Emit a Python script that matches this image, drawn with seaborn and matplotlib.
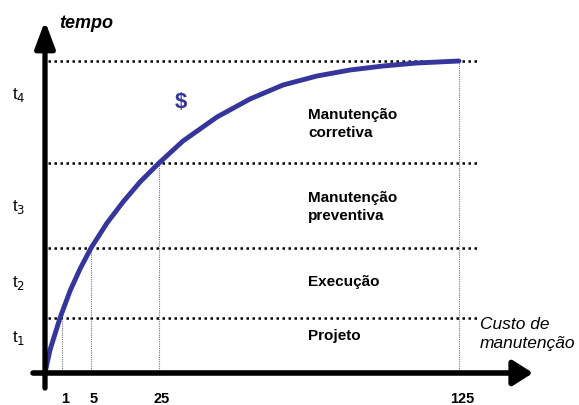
import numpy as np
import seaborn as sns
import matplotlib.pyplot as plt

sns.set_style('white')
plt.rcParams['font.family'] = ['Liberation Sans', 'DejaVu Sans']
plt.rcParams['text.color'] = 'black'

# schematic units: origin at axis crossing
curve_x = [0, 5, 15, 25, 35, 46, 62, 78, 95, 114, 138, 172, 205, 238, 272, 305, 338, 372, 414]
curve_y = [0, 23, 55, 82, 104, 125, 150, 171, 191, 210, 232, 256, 274, 288, 297, 303, 307, 310, 312]

cost_pos = [17, 46, 114, 414]
cost_labels = ['1', '5', '25', '125']

time_levels = [55, 125, 210, 312]
time_labels = ['t$_1$', 't$_2$', 't$_3$', 't$_4$']
time_label_y = [35, 90, 166, 278]

bands = ['Projeto', 'Execução', 'Manutenção\npreventiva', 'Manutenção\ncorretiva']
band_y = [37, 91, 166, 249]

blue = '#35359c'

fig = plt.figure(figsize=(5.79, 4.05), dpi=100)
ax = fig.add_axes([0, 0, 1, 1])
ax.set_xlim(-45, 534)
ax.set_ylim(-32, 373)
ax.axis('off')

# dotted level lines
for lv in time_levels:
    ax.plot([3, 433], [lv, lv], color='black', lw=1.8, linestyle=(0, (1, 1.4)))

# thin vertical guides
for xp, lv in zip(cost_pos, time_levels):
    ax.plot([xp, xp], [0, lv], color='#777777', lw=0.8, linestyle=(0, (1, 1)))

sns.lineplot(x=curve_x, y=curve_y, ax=ax, color=blue, lw=3.5, sort=False,
             solid_joinstyle='round', solid_capstyle='round')

# axes with arrows
ax.annotate('', xy=(0, 352), xytext=(0, -15),
            arrowprops=dict(arrowstyle='-|>,head_length=0.8,head_width=0.3', lw=3.8,
                            color='black', mutation_scale=20, shrinkA=0, shrinkB=0))
ax.annotate('', xy=(488, 0), xytext=(-12, 0),
            arrowprops=dict(arrowstyle='-|>,head_length=0.6,head_width=0.38', lw=4,
                            color='black', mutation_scale=20, shrinkA=0, shrinkB=0))

for xp, lab in zip(cost_pos, cost_labels):
    ax.text(xp + 3, -26, lab, ha='center', va='center', fontsize=10.5, fontweight='bold')

for yp, lab in zip(time_label_y, time_labels):
    ax.text(-26, yp, lab, ha='center', va='center', fontsize=12)

for yp, lab in zip(band_y, bands):
    ax.text(263, yp, lab, ha='left', va='center', fontsize=11, fontweight='bold',
            linespacing=1.45)

ax.text(136, 271, '$', ha='center', va='center', fontsize=16, fontweight='bold', color=blue)

ax.text(14, 350, 'tempo', ha='left', va='center', fontsize=13, fontweight='bold', style='italic')
ax.text(435, 39, 'Custo de\nmanutenção', ha='left', va='center', fontsize=12.5,
        style='italic', linespacing=1.35)

fig.savefig('out.png', dpi=100)
